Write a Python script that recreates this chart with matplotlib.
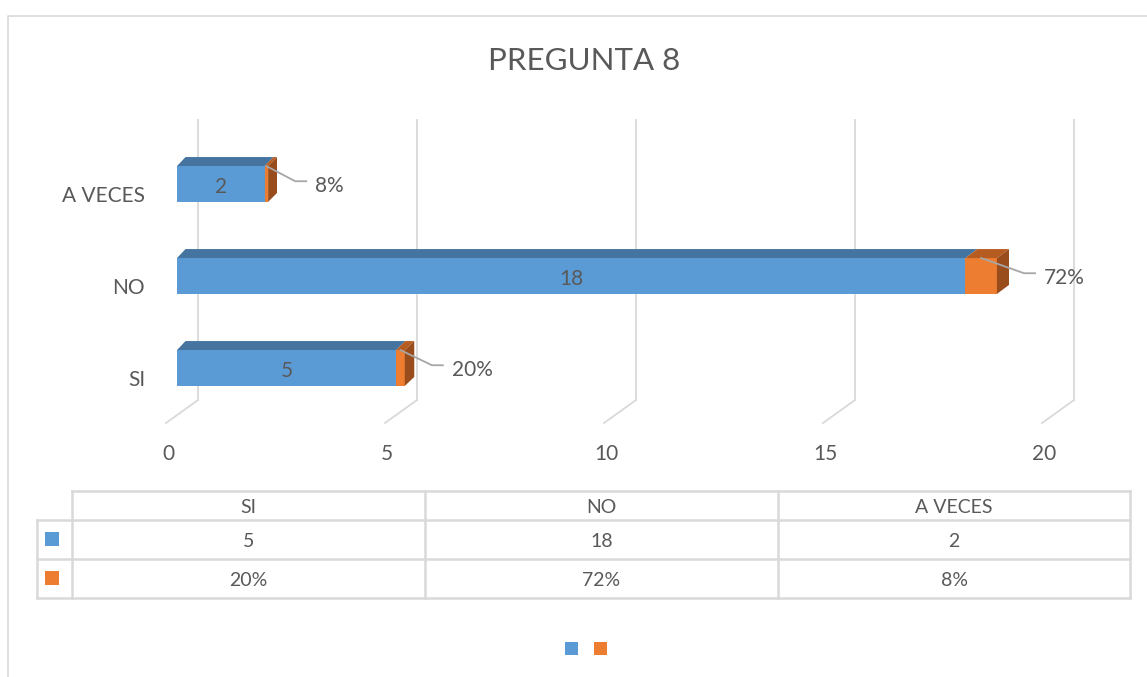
import matplotlib.pyplot as plt
from matplotlib.patches import Polygon, Rectangle

# data
categories = ['SI', 'NO', 'A VECES']
counts = [5, 18, 2]
shares = [0.20, 0.72, 0.08]
ticks = [0, 5, 10, 15, 20]

plt.rcParams['font.family'] = ['Lato', 'DejaVu Sans']
TXT = '#595959'
GRID = '#D9D9D9'
BLUE, BLUE_TOP = '#5B9BD5', '#44749F'
ORG, ORG_TOP, ORG_SIDE = '#ED7D31', '#B65C20', '#9A4D1C'

W, H = 1147, 677
fig = plt.figure(figsize=(W / 100, H / 100), dpi=100)

# plot axes: x in value units (front plane of bars), y in category units
PXU, PYU = 43.8, 92.0
X0, Y0 = 177, 368
ax = fig.add_axes([0, 0, 1, 1])
ax.set_xlim(-X0 / PXU, (W - X0) / PXU)
ax.set_ylim((Y0 - H) / PYU, Y0 / PYU)
ax.axis('off')

sh = 2.5 / PYU  # small downward nudge for text

# back wall gridlines + floor lines
wall_dx = 21 / PXU
for t in ticks:
    ax.plot([t + wall_dx, t + wall_dx], [-0.348, 2.696], color=GRID, lw=1.3, zorder=1)
    ax.plot([t + wall_dx, t - 0.251], [-0.348, -0.598], color=GRID, lw=1.3, zorder=1)
    ax.text(t - 0.205, -0.913 - sh, str(t), ha='center', va='center', fontsize=15, color=TXT)

bh = 0.39
dy = 9 / PYU


def depth(x):
    return (8.5 + 0.19 * x) / PXU


def bar3d(x0, x1, y, front, top, side=None):
    yb, yt = y - bh / 2, y + bh / 2
    ax.add_patch(Rectangle((x0, yb), x1 - x0, bh, facecolor=front, edgecolor='none', zorder=3))
    ax.add_patch(Polygon([(x0, yt), (x1, yt), (x1 + depth(x1), yt + dy), (x0 + depth(x0), yt + dy)],
                         closed=True, facecolor=top, edgecolor='none', zorder=3))
    if side is not None:
        ax.add_patch(Polygon([(x1, yb), (x1 + depth(x1), yb + dy), (x1 + depth(x1), yt + dy), (x1, yt)],
                             closed=True, facecolor=side, edgecolor='none', zorder=3))


for i, (cat, c, s) in enumerate(zip(categories, counts, shares)):
    bar3d(0, c, i, BLUE, BLUE_TOP)
    bar3d(c, c + s, i, ORG, ORG_TOP, ORG_SIDE)
    ax.text(c / 2, i - 0.01 - sh, str(c), ha='center', va='center', fontsize=15, color=TXT, zorder=4)
    end = c + s
    ax.plot([c + s / 2, end + 0.62, end + 0.87], [i + bh / 2, i + 0.03, i + 0.03],
            color='#A6A6A6', lw=1.3, zorder=4)
    ax.text(end + 1.07, i - sh, f'{s:.0%}', ha='left', va='center', fontsize=15, color=TXT, zorder=4)
    ax.text(-0.73, i - 0.1 - sh, cat, ha='right', va='center', fontsize=15, color=TXT)

ax.text(584 / PXU - X0 / PXU, (Y0 - 61) / PYU, 'PREGUNTA 8', ha='center', va='center',
        fontsize=22.5, color=TXT)

# overlay in pixel units: chart border and data table
ov = fig.add_axes([0, 0, 1, 1])
ov.set_xlim(0, W)
ov.set_ylim(H, 0)
ov.axis('off')
ov.patch.set_alpha(0)
ov.plot([8, 8, W], [H, 16, 16], color=GRID, lw=1.2)

cols = [72, 425, 778, 1130]
rows = [491, 520, 559, 598]
lw = 1.8
ov.plot([72, 1130], [491, 491], color=GRID, lw=lw)
for ry in rows[1:]:
    ov.plot([37, 1130], [ry, ry], color=GRID, lw=lw)
ov.plot([37, 37], [520, 598], color=GRID, lw=lw)
for cx in cols:
    ov.plot([cx, cx], [491, 598], color=GRID, lw=lw)

for j, cat in enumerate(categories):
    cx = (cols[j] + cols[j + 1]) / 2
    ov.text(cx, (rows[0] + rows[1]) / 2 + 2, cat, ha='center', va='center', fontsize=14, color=TXT)
    ov.text(cx, (rows[1] + rows[2]) / 2 + 2, str(counts[j]), ha='center', va='center', fontsize=14, color=TXT)
    ov.text(cx, (rows[2] + rows[3]) / 2 + 2, f'{shares[j]:.0%}', ha='center', va='center', fontsize=14, color=TXT)

ov.add_patch(Rectangle((45, 532), 14, 14, facecolor=BLUE, edgecolor='none'))
ov.add_patch(Rectangle((45, 571), 14, 14, facecolor=ORG, edgecolor='none'))
ov.add_patch(Rectangle((565, 642), 13, 13, facecolor=BLUE, edgecolor='none'))
ov.add_patch(Rectangle((594, 642), 13, 13, facecolor=ORG, edgecolor='none'))

fig.savefig('out.png', dpi=100)
